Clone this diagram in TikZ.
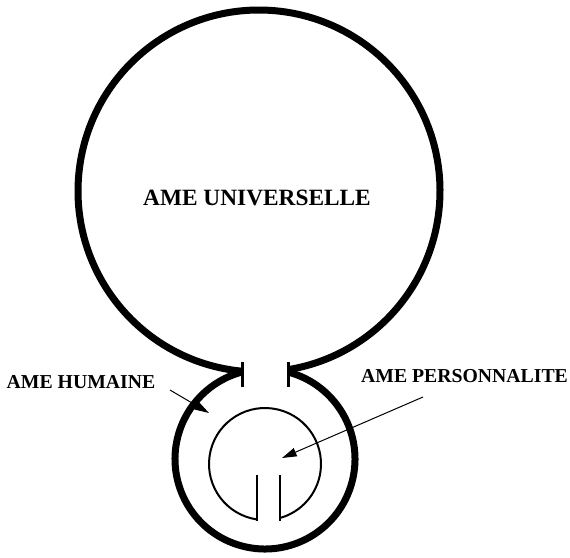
\documentclass[tikz,border=0pt]{standalone}
\usepackage{fontspec}
\setmainfont{Liberation Serif}
\usetikzlibrary{arrows.meta,calc}
\begin{document}
\begin{tikzpicture}[x=0.75pt,y=0.75pt,
  outline/.style={line width=5.25pt,line cap=butt},
  neckbar/.style={line width=2.25pt},
  inner/.style={line width=1.5pt},
  innerbar/.style={line width=1.9pt},
  pointer/.style={line width=0.75pt,-{Triangle[length=11pt,width=6.5pt]}},
  lbl/.style={font=\bfseries\fontsize{14.8}{17}\selectfont,anchor=base,inner sep=0pt},
  biglbl/.style={font=\bfseries\fontsize{17.5}{20}\selectfont,anchor=base,inner sep=0pt}]
\useasboundingbox (0,0) rectangle (570,-557);
% centres
\coordinate (c1) at (259,-191);
\coordinate (c2) at (265,-459);
\coordinate (c3) at (265,-464);
% big circle (ame universelle)
\draw[outline] ($(c1)+(264.6:135.75pt)$) arc[start angle=264.6,end angle=-80.8,radius=135.75pt];
% small circle (ame humaine)
\draw[outline] ($(c2)+(75.2:67.5pt)$) arc[start angle=75.2,end angle=-255.2,radius=67.5pt];
% neck bars
\coordinate (nl1) at (242,-362); \coordinate (nl2) at (242,-387);
\coordinate (nr1) at (288,-362); \coordinate (nr2) at (288,-387);
\draw[neckbar] (nl1) -- (nl2);
\draw[neckbar] (nr1) -- (nr2);
% inner circle (ame personnalite)
\draw[inner] ($(c3)+(261.8:42pt)$) arc[start angle=261.8,end angle=-74.5,radius=42pt];
\coordinate (il1) at (257,-475); \coordinate (il2) at (257,-521);
\coordinate (ir1) at (280,-475); \coordinate (ir2) at (280,-521);
\draw[innerbar] (il1) -- (il2);
\draw[innerbar] (ir1) -- (ir2);
% labels
\node[biglbl] (univ) at (257,-205) {AME UNIVERSELLE};
\node[lbl] (hum) at (81,-388) {AME HUMAINE};
\node[lbl] (pers) at (464.5,-382) {AME PERSONNALITE};
% arrows
\coordinate (a1s) at (170,-390); \coordinate (a1e) at (209,-413);
\coordinate (a2s) at (423,-397); \coordinate (a2e) at (282,-458);
\draw[pointer] (a1s) -- (a1e);
\draw[pointer] (a2s) -- (a2e);
\end{tikzpicture}
\end{document}
